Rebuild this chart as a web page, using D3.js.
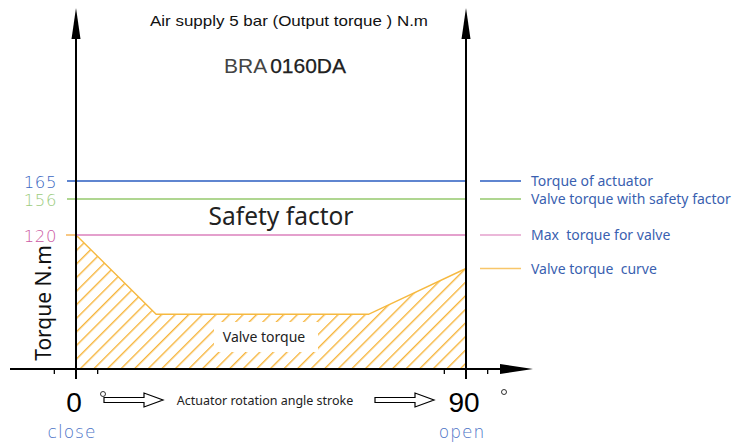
<!DOCTYPE html>
<html>
<head>
<meta charset="utf-8">
<script src="https://cdn.jsdelivr.net/npm/d3@7"></script>
<style>
  body { margin: 0; background: #fff; }
  svg { display: block; }
  .pre { white-space: pre; }
</style>
</head>
<body>
<svg id="chart" width="748" height="445"></svg>
<script>
// data
var levelValues = [165, 156, 120];
var levelLabels = ["165", "156", "120"];
var levelColors = ["#2a5cc0", "#94c86c", "#e4a0cd"];
var levelTextColors = ["#3a67c2", "#9ccc80", "#cc5aa4"];

var curveAngles = [0, 18.5, 67.5, 90];
var curveTorque = [120, 49, 49, 90];

var legendLabels = ["Torque of actuator", "Valve torque with safety factor", "Max  torque for valve", "Valve torque  curve"];
var legendValues = [165, 156, 120, 90];
var legendColors = ["#2a5cc0", "#94c86c", "#e4a0cd", "#f8c66a"];

var xTicks = [-5, 5, 85, 95];
var xEndLabels = ["0", "90"];
var xEndAngles = [0, 90];
var xEndWords = ["close", "open"];

// scales (torque axis is drawn non-linear in the original)
var x = d3.scaleLinear().domain([0, 90]).range([76, 466]);
var y = d3.scaleLinear().domain([0, 120, 156, 165]).range([369, 235, 199, 181]);

var svg = d3.select("#chart");
var defs = svg.append("defs");

defs.append("pattern")
    .attr("id", "hatch")
    .attr("patternUnits", "userSpaceOnUse")
    .attr("width", 9.6).attr("height", 10)
    .attr("patternTransform", "rotate(45)")
  .append("line")
    .attr("x1", 0.7).attr("y1", 0).attr("x2", 0.7).attr("y2", 10)
    .attr("stroke", "#f6b53c").attr("stroke-width", 1.4);

var pts = curveAngles.map(function(a, i) { return [a, curveTorque[i]]; });

// hatched area under valve torque curve
var area = d3.area()
    .x(function(d) { return x(d[0]); })
    .y0(y(0))
    .y1(function(d) { return y(d[1]); });
svg.append("path")
    .datum(pts)
    .attr("d", area)
    .attr("fill", "url(#hatch)");

// white box behind "Valve torque"
svg.append("rect")
    .attr("x", 214).attr("y", 322).attr("width", 104).attr("height", 30)
    .attr("fill", "#fff");
svg.append("text")
    .attr("x", 264).attr("y", 342)
    .attr("text-anchor", "middle")
    .style("font-family", "Noto Sans")
    .style("font-size", "14px")
    .attr("fill", "#222")
    .text("Valve torque");

// curve line
svg.append("path")
    .datum(pts)
    .attr("d", d3.line().x(function(d) { return x(d[0]); }).y(function(d) { return y(d[1]); }))
    .attr("fill", "none")
    .attr("stroke", "#f6b940")
    .attr("stroke-width", 1.4);

// small orange stub left of axis at 120
svg.append("line")
    .attr("x1", x(0) - 10).attr("x2", x(0))
    .attr("y1", y(120)).attr("y2", y(120))
    .attr("stroke", "#f8c884").attr("stroke-width", 2);

// reference level lines
svg.selectAll(".level")
    .data(levelValues).enter()
    .append("line")
    .attr("x1", function(d, i) { return i == 2 ? x(0) : x(0) - 9; })
    .attr("x2", x(90))
    .attr("y1", function(d) { return y(d); })
    .attr("y2", function(d) { return y(d); })
    .attr("stroke", function(d, i) { return levelColors[i]; })
    .attr("stroke-width", function(d, i) { return i == 2 ? 2 : 1.3; });

svg.selectAll(".levelLabel")
    .data(levelValues).enter()
    .append("text")
    .attr("x", 57)
    .attr("y", function(d) { return y(d) + 7; })
    .attr("text-anchor", "end")
    .style("font-family", "DejaVu Sans")
    .style("font-weight", "200")
    .style("font-size", "16.5px")
    .style("letter-spacing", "0.6px")
    .attr("fill", function(d, i) { return levelTextColors[i]; })
    .text(function(d, i) { return levelLabels[i]; });

// x axis
svg.append("line")
    .attr("x1", 10).attr("x2", 505)
    .attr("y1", y(0)).attr("y2", y(0))
    .attr("stroke", "#000").attr("stroke-width", 2);
svg.append("path")
    .attr("d", "M500," + (y(0) - 5) + "L533," + y(0) + "L500," + (y(0) + 5) + "Z")
    .attr("fill", "#000");
svg.selectAll(".xtick")
    .data(xTicks).enter()
    .append("line")
    .attr("x1", function(d) { return x(d); })
    .attr("x2", function(d) { return x(d); })
    .attr("y1", y(0)).attr("y2", y(0) + 5)
    .attr("stroke", "#000").attr("stroke-width", 1.3);

// vertical axes at 0 and 90
xEndAngles.forEach(function(a) {
  var xx = x(a);
  svg.append("line")
      .attr("x1", xx).attr("x2", xx)
      .attr("y1", 36).attr("y2", 379)
      .attr("stroke", "#000").attr("stroke-width", 2);
  svg.append("path")
      .attr("d", "M" + xx + ",8L" + (xx + 4.5) + ",39L" + (xx - 4.5) + ",39Z")
      .attr("fill", "#000");
});

// end labels 0 / 90 and close / open
svg.selectAll(".endLabel")
    .data(xEndAngles).enter()
    .append("text")
    .attr("x", function(d) { return x(d) - 2; })
    .attr("y", 412)
    .attr("text-anchor", "middle")
    .style("font-family", "Liberation Sans")
    .style("font-size", "28px")
    .attr("fill", "#000")
    .text(function(d, i) { return xEndLabels[i]; });

svg.selectAll(".degree")
    .data(xEndAngles).enter()
    .append("circle")
    .attr("cx", function(d, i) { return i == 0 ? x(d) + 27 : x(d) + 38; })
    .attr("cy", function(d, i) { return i == 0 ? 394 : 392; })
    .attr("r", 2.5)
    .attr("fill", "none").attr("stroke", "#000").attr("stroke-width", 0.8);

svg.selectAll(".endWord")
    .data(xEndAngles).enter()
    .append("text")
    .attr("x", function(d) { return x(d) - 4; })
    .attr("y", 438)
    .attr("text-anchor", "middle")
    .style("font-family", "DejaVu Sans")
    .style("font-weight", "200")
    .style("font-size", "17px")
    .style("letter-spacing", "1px")
    .attr("fill", "#4a72c6")
    .text(function(d, i) { return xEndWords[i]; });

// hollow arrows along the stroke label
function hollowArrow(x0, cy) {
  var p = "M" + x0 + "," + (cy - 2.5) + "H" + (x0 + 40) + "V" + (cy - 7) +
          "L" + (x0 + 59) + "," + cy + "L" + (x0 + 40) + "," + (cy + 7) +
          "V" + (cy + 2.5) + "H" + x0 + "Z";
  svg.append("path").attr("d", p)
      .attr("fill", "#fff").attr("stroke", "#000").attr("stroke-width", 1.2);
}
hollowArrow(104, 400);
hollowArrow(375, 400);

svg.append("text")
    .attr("x", 265).attr("y", 405)
    .attr("text-anchor", "middle")
    .style("font-family", "Noto Sans")
    .style("font-size", "12.5px")
    .attr("fill", "#222")
    .text("Actuator rotation angle stroke");

// y axis title
svg.append("text")
    .attr("transform", "translate(51,303) rotate(-90)")
    .attr("text-anchor", "middle")
    .style("font-family", "Noto Sans")
    .style("font-size", "21px")
    .attr("fill", "#111")
    .text("Torque N.m");

// titles
svg.append("text")
    .attr("x", 289).attr("y", 26)
    .attr("text-anchor", "middle")
    .attr("textLength", 278)
    .attr("lengthAdjust", "spacingAndGlyphs")
    .style("font-family", "Liberation Sans")
    .style("font-size", "15px")
    .attr("fill", "#111")
    .text("Air supply 5 bar (Output torque ) N.m");

var model = svg.append("text")
    .attr("x", 285).attr("y", 73)
    .attr("text-anchor", "middle")
    .style("font-family", "Liberation Sans")
    .style("font-size", "21px")
    .attr("fill", "#222");
model.append("tspan").attr("fill", "#444").text("BRA");
model.append("tspan").attr("dx", 3).attr("stroke", "#111").attr("stroke-width", 0.25).text("0160DA");

svg.append("text")
    .attr("x", 281).attr("y", 225)
    .attr("text-anchor", "middle")
    .style("font-family", "Noto Sans")
    .style("font-size", "24.5px")
    .attr("fill", "#222")
    .text("Safety factor");

// legend
var leg = svg.selectAll(".legend")
    .data(legendValues).enter()
    .append("g")
    .attr("transform", function(d) { return "translate(480," + y(d) + ")"; });
leg.append("line")
    .attr("x1", 0).attr("x2", 41)
    .attr("stroke", function(d, i) { return legendColors[i]; })
    .attr("stroke-width", 1.3);
leg.append("text")
    .attr("class", "pre")
    .attr("x", 51).attr("y", 5)
    .style("font-family", "Noto Sans")
    .style("font-size", "14px")
    .attr("fill", "#3a5fb0")
    .text(function(d, i) { return legendLabels[i]; });
</script>
</body>
</html>
